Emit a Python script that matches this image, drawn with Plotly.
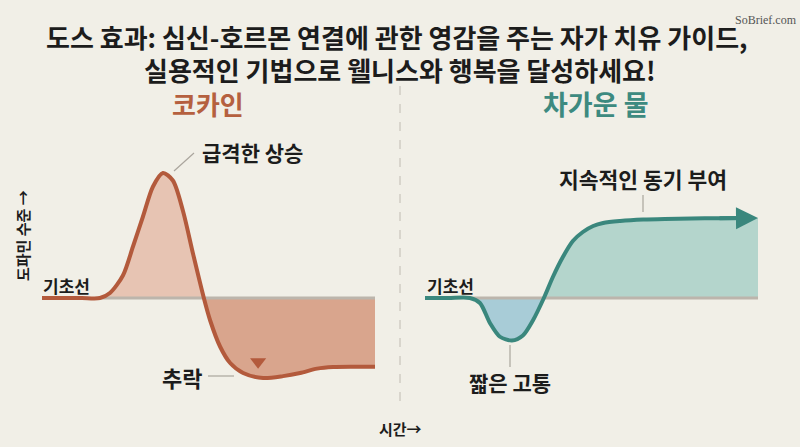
import plotly.graph_objects as go

# ---------------- data (time 0-10, dopamine relative to baseline = 0) ----------------
coc_t = [0, 0.6, 1.2, 1.74, 2.04, 2.43, 2.73, 3.03, 3.33, 3.63, 3.93, 4.23, 4.53, 4.86,
         5.05, 5.35, 5.65, 6.04, 6.64, 7.24, 7.75, 8.26, 8.74, 9.4, 10]
coc_y = [0, 0, 0, 0, 0.04, 0.18, 0.41, 0.65, 0.89, 1.0, 0.94, 0.70, 0.36, 0,
         -0.18, -0.39, -0.52, -0.60, -0.64, -0.625, -0.60, -0.565, -0.552, -0.55, -0.55]

cold_t = [0, 0.7, 1.35, 1.65, 1.95, 2.25, 2.61, 2.94, 3.24, 3.57, 3.84, 4.14, 4.44,
          4.74, 5.05, 5.35, 5.86, 6.55, 7.2, 8.0, 8.8, 9.55, 10]
cold_y = [0, 0, 0, -0.04, -0.20, -0.31, -0.34, -0.30, -0.18, 0, 0.168, 0.328, 0.456,
          0.528, 0.576, 0.60, 0.616, 0.628, 0.633, 0.636, 0.638, 0.64, 0.64]

drop_marker_t = [6.49]
drop_marker_y = [-0.51]

title_lines = ["도스 효과: 심신-호르몬 연결에 관한 영감을 주는 자가 치유 가이드,",
               "실용적인 기법으로 웰니스와 행복을 달성하세요!"]
panel_titles = ["코카인", "차가운 물"]

# ---------------- styling ----------------
BG = "#f1efe7"
COC_LINE = "#b35a3c"
COC_UP = "#e7c4b3"
COC_DOWN = "#d9a58d"
COLD_LINE = "#3a877d"
COLD_DOWN = "#a8ccd7"
COLD_UP = "#b4d5cc"
BASE = "#bcb5ac"
LEAD = "#aaa59d"
TXT = "#1c1c1c"
FONT = "Noto Sans CJK KR"
SMOOTH = 0.8

W, H = 800, 447


def P(px, py):
    return px / W, 1 - py / H


fig = go.Figure()

# cocaine fills
i_up0, i_cross = 3, coc_y.index(0, 5)
fig.add_trace(go.Scatter(x=coc_t[i_up0:i_cross + 1], y=coc_y[i_up0:i_cross + 1], mode="lines",
                         line=dict(width=0, shape="spline", smoothing=SMOOTH), fill="tozeroy",
                         fillcolor=COC_UP, xaxis="x", yaxis="y", hoverinfo="skip"))
fig.add_trace(go.Scatter(x=coc_t[i_cross:], y=coc_y[i_cross:], mode="lines",
                         line=dict(width=0, shape="spline", smoothing=SMOOTH), fill="tozeroy",
                         fillcolor=COC_DOWN, xaxis="x", yaxis="y", hoverinfo="skip"))
# cold fills
j0, j_cross = 2, cold_y.index(0, 5)
fig.add_trace(go.Scatter(x=cold_t[j0:j_cross + 1], y=cold_y[j0:j_cross + 1], mode="lines",
                         line=dict(width=0, shape="spline", smoothing=SMOOTH), fill="tozeroy",
                         fillcolor=COLD_DOWN, xaxis="x2", yaxis="y2", hoverinfo="skip"))
fig.add_trace(go.Scatter(x=cold_t[j_cross:], y=cold_y[j_cross:], mode="lines",
                         line=dict(width=0, shape="spline", smoothing=SMOOTH), fill="tozeroy",
                         fillcolor=COLD_UP, xaxis="x2", yaxis="y2", hoverinfo="skip"))

# baselines
fig.add_trace(go.Scatter(x=[coc_t[i_up0], coc_t[-1]], y=[0, 0], mode="lines",
                         line=dict(width=3, color=BASE), xaxis="x", yaxis="y"))
fig.add_trace(go.Scatter(x=[cold_t[j0], cold_t[-1]], y=[0, 0], mode="lines",
                         line=dict(width=3, color=BASE), xaxis="x2", yaxis="y2"))

# curves
fig.add_trace(go.Scatter(x=coc_t, y=coc_y, mode="lines",
                         line=dict(width=4, color=COC_LINE, shape="spline", smoothing=SMOOTH),
                         xaxis="x", yaxis="y"))
fig.add_trace(go.Scatter(x=cold_t[:-1], y=cold_y[:-1], mode="lines",
                         line=dict(width=4, color=COLD_LINE, shape="spline", smoothing=SMOOTH),
                         xaxis="x2", yaxis="y2"))

# drop marker
fig.add_trace(go.Scatter(x=drop_marker_t, y=drop_marker_y, mode="markers",
                         marker=dict(symbol="triangle-down", size=14, color=COC_LINE),
                         xaxis="x", yaxis="y"))

YR = [-149 / 125, 298 / 125]
axis_off = dict(visible=False, showgrid=False, zeroline=False, fixedrange=True)
fig.update_layout(
    width=W, height=H, margin=dict(l=0, r=0, t=0, b=0),
    paper_bgcolor=BG, plot_bgcolor="rgba(0,0,0,0)", showlegend=False,
    font=dict(family=FONT, color=TXT),
    xaxis=dict(domain=[42 / W, 375 / W], range=[0, 10], anchor="y", **axis_off),
    yaxis=dict(domain=[0, 1], range=YR, anchor="x", **axis_off),
    xaxis2=dict(domain=[425 / W, 758 / W], range=[0, 10], anchor="y2", **axis_off),
    yaxis2=dict(domain=[0, 1], range=YR, anchor="x2", **axis_off),
)

ann = []


def text(px, py, s, size, color=TXT, bold=True, **kw):
    x, y = P(px, py)
    ann.append(dict(x=x, y=y, xref="paper", yref="paper", showarrow=False,
                    text=f"<b>{s}</b>" if bold else s,
                    font=dict(size=size, color=color, family=kw.pop("family", FONT)),
                    xanchor=kw.pop("xanchor", "center"), yanchor="middle", **kw))


text(397, 36, title_lines[0], 26)
text(400, 69, title_lines[1], 26)
text(766, 20, "SoBrief.com", 12, color="#555", bold=False, family="Liberation Serif")
text(208, 104, panel_titles[0], 26, color="#b5603f")
text(596, 104, panel_titles[1], 27, color="#3d8a80")
text(253, 152, "급격한 상승", 21)
text(182, 377, "추락", 22)
text(643, 178, "지속적인 동기 부여", 21.5)
text(510, 382, "짧은 고통", 21)
text(66, 285, "기초선", 17)
text(450, 285, "기초선", 17)
text(400, 428, "시간→", 15)
text(22, 236, "도파민 수준 →", 15, textangle=-90)

# arrow head on cold-water curve
ann.append(dict(x=cold_t[-1], y=cold_y[-1], xref="x2", yref="y2",
                ax=cold_t[-3], ay=cold_y[-3], axref="x2", ayref="y2",
                showarrow=True, arrowhead=2, arrowsize=1.1, arrowwidth=4,
                arrowcolor=COLD_LINE, text=""))
fig.update_layout(annotations=ann)

shapes = []


def seg(p1, p2, color=LEAD, width=1.2, dash="solid"):
    x0, y0 = P(*p1)
    x1, y1 = P(*p2)
    shapes.append(dict(type="line", xref="paper", yref="paper", x0=x0, y0=y0, x1=x1, y1=y1,
                       line=dict(color=color, width=width, dash=dash)))


seg((174, 171), (194, 153))
seg((208, 376), (234, 376))
seg((643, 195), (643, 212))
seg((510, 345), (510, 367))
seg((400, 86), (400, 405), color="#c9c4bb", width=1.2, dash="dash")
fig.update_layout(shapes=shapes)

fig.write_html("out.html")
